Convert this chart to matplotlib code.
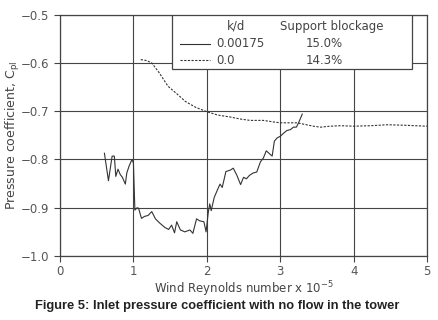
import matplotlib
matplotlib.use('Agg')
import matplotlib.pyplot as plt
from matplotlib.patches import Rectangle
from matplotlib.lines import Line2D

# k/d = 0.00175 (solid)
rough_x = [0.605, 0.66, 0.71, 0.74, 0.76, 0.79, 0.82, 0.85, 0.89, 0.91, 0.94, 0.98,
           1.00, 1.02, 1.05, 1.07, 1.11, 1.15, 1.20, 1.25, 1.30, 1.36, 1.43, 1.48,
           1.52, 1.56, 1.59, 1.64, 1.70, 1.77, 1.81, 1.86, 1.90, 1.96, 1.99, 2.02,
           2.04, 2.06, 2.10, 2.15, 2.18, 2.21, 2.26, 2.32, 2.36, 2.41, 2.46, 2.50,
           2.54, 2.58, 2.63, 2.68, 2.73, 2.77, 2.81, 2.86, 2.89, 2.92, 2.96, 3.00,
           3.05, 3.09, 3.14, 3.18, 3.22, 3.25, 3.30]
rough_y = [-0.787, -0.844, -0.793, -0.793, -0.835, -0.820, -0.831, -0.837, -0.851, -0.828,
           -0.814, -0.800, -0.807, -0.905, -0.900, -0.901, -0.922, -0.918, -0.916, -0.908,
           -0.923, -0.932, -0.941, -0.945, -0.936, -0.952, -0.929, -0.946, -0.950, -0.946,
           -0.953, -0.923, -0.927, -0.929, -0.950, -0.909, -0.892, -0.906, -0.879, -0.861,
           -0.851, -0.858, -0.825, -0.822, -0.818, -0.833, -0.852, -0.837, -0.840, -0.833,
           -0.828, -0.826, -0.805, -0.797, -0.782, -0.789, -0.793, -0.762, -0.755, -0.752,
           -0.745, -0.740, -0.738, -0.733, -0.733, -0.724, -0.706]

# k/d = 0.0 (dashed)
smooth_x = [1.10, 1.18, 1.25, 1.35, 1.47, 1.60, 1.71, 1.85, 2.00, 2.15, 2.32, 2.45, 2.59,
            2.77, 2.90, 3.00, 3.23, 3.45, 3.55, 3.68, 3.82, 4.00, 4.23, 4.46, 4.68, 5.00]
smooth_y = [-0.593, -0.595, -0.600, -0.620, -0.648, -0.665, -0.680, -0.692, -0.701, -0.708,
            -0.712, -0.716, -0.719, -0.719, -0.722, -0.724, -0.724, -0.731, -0.733, -0.731,
            -0.730, -0.731, -0.730, -0.728, -0.729, -0.731]

legend_kd = ['0.00175', '0.0']
legend_block = ['15.0%', '14.3%']

ink = '#333333'
fig = plt.figure(figsize=(4.38, 3.2), dpi=100)
ax = fig.add_axes([0.137, 0.2, 0.838, 0.754])

ax.plot(rough_x, rough_y, color=ink, lw=0.8)
ax.plot(smooth_x, smooth_y, color=ink, lw=0.8, dashes=(2, 1.3))

ax.set_xlim(0, 5)
ax.set_ylim(-1.0, -0.5)
ax.set_xticks([0, 1, 2, 3, 4, 5])
ax.set_yticks([-1.0, -0.9, -0.8, -0.7, -0.6, -0.5])
ax.set_yticklabels(['\u22121.0', '\u22120.9', '\u22120.8', '\u22120.7', '\u22120.6', '\u22120.5'])
ax.grid(True, color='#444444', lw=0.8)
ax.tick_params(direction='out', length=4, width=0.8, colors='#444444', labelsize=8.5,
               labelcolor='#555555')
ax.tick_params(axis='x', pad=2.5)
for s in ax.spines.values():
    s.set_color('#444444')
    s.set_linewidth(0.9)

ax.set_xlabel('Wind Reynolds number x 10$^{-5}$', fontsize=8.5, color='#444444', labelpad=1)
ax.set_ylabel('Pressure coefficient, C$_{\\rm pl}$', fontsize=9, color='#444444', labelpad=-0.5)

# legend table
ax.add_patch(Rectangle((0.305, 0.773), 0.653, 0.227, transform=ax.transAxes,
                       facecolor='white', edgecolor='#444444', lw=0.9, zorder=5))
ax.text(0.48, 0.953, 'k/d', transform=ax.transAxes, ha='center', va='center',
        fontsize=8.5, color='#444444', zorder=6)
ax.text(0.741, 0.953, 'Support blockage', transform=ax.transAxes, ha='center', va='center',
        fontsize=8.5, color='#444444', zorder=6)
row_y = [0.879, 0.812]
styles = [dict(), dict(dashes=(2, 1.3))]
for i in range(2):
    ax.add_line(Line2D([0.327, 0.409], [row_y[i], row_y[i]], transform=ax.transAxes,
                       color=ink, lw=0.8, zorder=6, **styles[i]))
    ax.text(0.427, row_y[i], legend_kd[i], transform=ax.transAxes, ha='left', va='center',
            fontsize=8.5, color='#444444', zorder=6)
    ax.text(0.668, row_y[i], legend_block[i], transform=ax.transAxes, ha='left', va='center',
            fontsize=8.5, color='#444444', zorder=6)

fig.text(0.497, 0.045, 'Figure 5: Inlet pressure coefficient with no flow in the tower',
         ha='center', va='center', fontsize=9.3, fontweight='bold',
         family='Liberation Sans', color='#222222')

fig.savefig('out.png', dpi=100)
